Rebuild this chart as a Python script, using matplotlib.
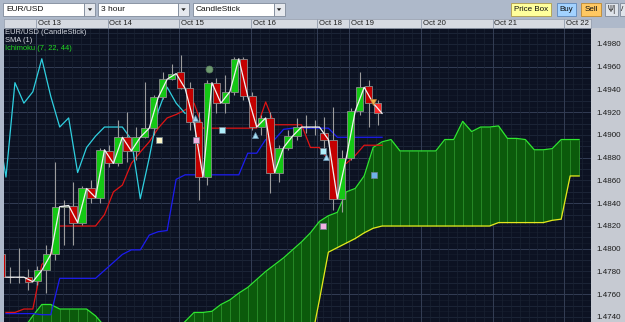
import numpy as np
import matplotlib
matplotlib.use('Agg')
import matplotlib.pyplot as plt
from matplotlib.patches import Rectangle, Polygon

W, H = 625, 322

# ---------------- data ----------------
opens = [1.4795, 1.4775, 1.4775, 1.4775, 1.4772, 1.4781, 1.4795, 1.4837, 1.4838, 1.4823,
         1.4853, 1.4845, 1.4886, 1.4875, 1.4898, 1.4886, 1.4898, 1.4906, 1.4933, 1.4949,
         1.4955, 1.4941, 1.4911, 1.4863, 1.4946, 1.4928, 1.4938, 1.4967, 1.4934, 1.4907,
         1.4915, 1.4867, 1.4889, 1.4899, 1.4907, 1.4907, 1.4902, 1.4896, 1.4844, 1.4880,
         1.4921, 1.4943, 1.4928]
highs = [1.4799, 1.4784, 1.4801, 1.4782, 1.4785, 1.4803, 1.4876, 1.4843, 1.4859, 1.4855,
         1.4860, 1.4889, 1.4891, 1.4913, 1.4920, 1.4907, 1.4947, 1.4935, 1.4955, 1.4962,
         1.4970, 1.4947, 1.4920, 1.4948, 1.4950, 1.4953, 1.4969, 1.4969, 1.4938, 1.4918,
         1.4920, 1.4891, 1.4904, 1.4915, 1.4918, 1.4913, 1.4916, 1.4925, 1.4887, 1.4924,
         1.4955, 1.4948, 1.4931]
lows = [1.4773, 1.4770, 1.4770, 1.4764, 1.4768, 1.4761, 1.4790, 1.4803, 1.4803, 1.4821,
        1.4840, 1.4840, 1.4872, 1.4873, 1.4876, 1.4878, 1.4897, 1.4900, 1.4932, 1.4948,
        1.4940, 1.4904, 1.4843, 1.4856, 1.4919, 1.4919, 1.4935, 1.4931, 1.4904, 1.4900,
        1.4849, 1.4859, 1.4887, 1.4896, 1.4902, 1.4900, 1.4889, 1.4834, 1.4832, 1.4878,
        1.4918, 1.4907, 1.4909]
closes = [1.4775, 1.4775, 1.4775, 1.4771, 1.4781, 1.4795, 1.4837, 1.4838, 1.4823, 1.4853,
          1.4845, 1.4887, 1.4875, 1.4898, 1.4886, 1.4898, 1.4906, 1.4933, 1.4949, 1.4954,
          1.4941, 1.4911, 1.4863, 1.4946, 1.4928, 1.4938, 1.4967, 1.4934, 1.4907, 1.4915,
          1.4867, 1.4889, 1.4899, 1.4907, 1.4907, 1.4907, 1.4896, 1.4844, 1.4880, 1.4921,
          1.4942, 1.4928, 1.4919]

# Ichimoku (7, 22, 44)
tenkan = [1.4744, 1.4744, 1.4747, 1.4747, 1.4786, 1.4795, 1.4820, 1.4820, 1.4820, 1.4820,
          1.4820, 1.4830, 1.4850, 1.4856, 1.4875, 1.4885, 1.4894, 1.4906, 1.4915, 1.4918,
          1.4922, 1.4928, 1.4906, 1.4906, 1.4906, 1.4906, 1.4906, 1.4906, 1.4906, 1.4929,
          1.4909, 1.4909, 1.4909, 1.4909, 1.4889, 1.4889, 1.4878, 1.4875, 1.4875, 1.4882,
          1.4891, 1.4891, 1.4891]
kijun = [1.4743, 1.4743, 1.4743, 1.4743, 1.4742, 1.4742, 1.4774, 1.4774, 1.4774, 1.4774,
         1.4774, 1.4781, 1.4788, 1.4795, 1.4799, 1.4799, 1.4812, 1.4815, 1.4816, 1.4861,
         1.4865, 1.4865, 1.4865, 1.4865, 1.4865, 1.4865, 1.4865, 1.4884, 1.4884, 1.4896,
         1.4896, 1.4905, 1.4906, 1.4906, 1.4906, 1.4906, 1.4906, 1.4898, 1.4898, 1.4898,
         1.4898, 1.4898, 1.4898]
senkou_a = [1.4720, 1.4720, 1.4730, 1.4741, 1.4751, 1.4751, 1.4747, 1.4747, 1.4747, 1.4747,
            1.4741, 1.4732, 1.4724, 1.4722, 1.4720, 1.4720, 1.4720, 1.4720, 1.4722, 1.4729,
            1.4736, 1.4744, 1.4744, 1.4745, 1.4751, 1.4755, 1.4761, 1.4766, 1.4773, 1.4780,
            1.4786, 1.4792, 1.4799, 1.4806, 1.4814, 1.4824, 1.4829, 1.4832, 1.4850, 1.4853,
            1.4864, 1.4889, 1.4894, 1.4896, 1.4886, 1.4886, 1.4886, 1.4886, 1.4886, 1.4896,
            1.4896, 1.4912, 1.4903, 1.4907, 1.4907, 1.4908, 1.4897, 1.4897, 1.4896, 1.4887,
            1.4887, 1.4888, 1.4896, 1.4896, 1.4896]
senkou_b = [1.4715] * 34 + [1.4715, 1.4755, 1.4797, 1.4801, 1.4805, 1.4809, 1.4814, 1.4818,
            1.4820, 1.4820, 1.4820, 1.4820, 1.4820, 1.4820, 1.4820, 1.4820, 1.4820, 1.4820,
            1.4820, 1.4820, 1.4820, 1.4823, 1.4823, 1.4823, 1.4823, 1.4823, 1.4823, 1.4825,
            1.4826, 1.4864, 1.4864]
chikou_shift = 22

day_labels = ['Oct 13', 'Oct 14', 'Oct 15', 'Oct 16', 'Oct 18', 'Oct 19', 'Oct 20', 'Oct 21', 'Oct 22']
day_pos = [3.85, 11.85, 19.85, 27.85, 35.2, 38.85, 46.85, 54.85, 62.85]
price_ticks = [1.4740, 1.4760, 1.4780, 1.4800, 1.4820, 1.4840, 1.4860, 1.4880,
               1.4900, 1.4920, 1.4940, 1.4960, 1.4980]

circle_pts = [(23.2, 1.4958)]
square_pts = [(17.6, 1.4896), (21.7, 1.4896), (24.6, 1.4904), (35.9, 1.4886), (35.9, 1.4820), (41.6, 1.4865)]
square_cols = ['#fff8c8', '#f2b2e2', '#b0eefa', '#b0eefa', '#f2b2e2', '#6fb2ea']
tri_up_pts = [(21.6, 1.4915), (28.3, 1.4900), (36.2, 1.4881)]
tri_down_pts = [(41.5, 1.4929)]

legend_lines = ['EUR/USD (CandleStick)', 'SMA (1)', 'Ichimoku (7, 22, 44)']

# ---------------- figure ----------------
CHROME = '#aeb9ca'
fig = plt.figure(figsize=(W / 100, H / 100), dpi=100, facecolor=CHROME)
FONT = 'Liberation Sans'


def fx(x):
    return x / W


def fy(y):
    return 1 - y / H


def fbox(x0, y0, x1, y1, fc, ec='#7f8a9a', lw=0.6, z=1):
    fig.add_artist(Rectangle((fx(x0), fy(y1)), fx(x1) - fx(x0), fy(y0) - fy(y1),
                             transform=fig.transFigure, fc=fc, ec=ec, lw=lw, zorder=z))


# right panel (behind the axes)
fbox(590.7, 27.5, 625, 322, '#c6cad2', ec='none', lw=0, z=-1)

# main axes
PL, PR, PT, PB = 3.5, 590.7, 27.5, 322
ax = fig.add_axes([fx(PL), fy(PB), fx(PR) - fx(PL), fy(PT) - fy(PB)])
ax.set_zorder(2)
ax.set_facecolor('#0c1222')
x_left = (PL - 1.5) / 8.955
x_right = (PR - 1.5) / 8.955
ax.set_xlim(x_left, x_right)
ymin, ymax = 1.47356, 1.49945
ax.set_ylim(ymin, ymax)
for s in ax.spines.values():
    s.set_visible(False)
ax.set_xticks([])
ax.yaxis.tick_right()
ax.set_yticks(price_ticks)
ax.set_yticklabels(['%.4f' % p for p in price_ticks], fontsize=5.8, color='#1a1a1a', family=FONT)
ax.tick_params(axis='y', length=0, pad=4)

# grid
for k in range(14720, 15001, 5):
    p = k / 10000
    if k % 40 == 0:
        c, lw = '#333d54', 0.7
    elif k % 10 == 0:
        c, lw = '#1f283b', 0.6
    else:
        c, lw = '#161d2d', 0.5
    ax.axhline(p, color=c, lw=lw, zorder=0)
for t in np.arange(day_pos[0] - 4, x_right, 1.0):
    ax.axvline(t, color='#1a2233', lw=0.5, zorder=0)
for t in day_pos:
    ax.axvline(t, color='#333d54', lw=0.7, zorder=0)

# cloud
n_cloud = len(senkou_a)
xb = np.arange(n_cloud) + 0.5
A = np.array(senkou_a)
B = np.array(senkou_b)
ax.fill_between(xb, A, B, color='#0b5a0b', lw=0, zorder=1)
ax.vlines(xb, np.minimum(A, B), np.maximum(A, B), color='#2b8f2b', lw=0.6, zorder=1.1)
ax.plot(xb, A, color='#2ee82e', lw=0.9, zorder=1.2)
ax.plot(xb, B, color='#e6e61e', lw=0.9, zorder=1.2)

n = len(closes)
idx = np.arange(n)
xl = idx + 0.5
ax.plot(xl, kijun, color='#1c1cf0', lw=0.9, zorder=2)
ax.plot(xl, tenkan, color='#e01414', lw=0.9, zorder=2.1)
ax.plot(idx - chikou_shift + 0.5, closes, color='#2fd0e0', lw=0.9, zorder=2.2)

# candles
for i, (o, h, l, c) in enumerate(zip(opens, highs, lows, closes)):
    ax.vlines(i, l, h, color='#9c9c9c', lw=0.8, zorder=3)
    if c > o:
        fc = '#14c814'
    elif c < o:
        fc = '#ff2a2a' if i == n - 1 else '#c40000'
    else:
        fc = 'none'
    ax.add_patch(Rectangle((i - 0.41, min(o, c)), 0.82, abs(c - o), fc=fc,
                           ec='#8c8c8c', lw=0.6, zorder=3.5))

# SMA(1)
ax.plot(xl, closes, color='#f2f2f2', lw=0.9, zorder=4)

# markers
for (x, y) in circle_pts:
    ax.plot(x, y, 'o', ms=5, mfc='#6e9a70', mec='#5a805c', mew=0.5, zorder=5)
for (x, y), col in zip(square_pts, square_cols):
    ax.plot(x, y, 's', ms=3.8, mfc=col, mec='#6f8090', mew=0.5, zorder=5)
for (x, y) in tri_up_pts:
    ax.plot(x, y, '^', ms=4.5, mfc='#a6dcf2', mec='#6b9ab8', mew=0.5, zorder=5)
for (x, y) in tri_down_pts:
    ax.plot(x, y, 'v', ms=4.5, mfc='#f2b24e', mec='#c08030', mew=0.5, zorder=5)

# legend texts
leg_cols = ['#d2d6de', '#d2d6de', '#22dd22']
for k, (t, col) in enumerate(zip(legend_lines, leg_cols)):
    fig.text(fx(5), fy(28.8 + 8.2 * k), t, color=col, fontsize=5.4, family=FONT,
             va='top', ha='left', zorder=10)

# date header
hx = fig.add_axes([fx(PL), fy(27.5), fx(PR) - fx(PL), fy(18.5) - fy(27.5)])
hx.set_zorder(2)
hx.set_facecolor('#d6dae1')
hx.set_xlim(x_left, x_right)
hx.set_ylim(0, 1)
hx.set_xticks([])
hx.set_yticks([])
for s in hx.spines.values():
    s.set_color('#9aa3b2')
    s.set_linewidth(0.6)
for t, lab in zip(day_pos, day_labels):
    hx.axvline(t, color='#9aa3b2', lw=0.7)
    hx.text(t + 0.2, 0.45, lab, fontsize=5.6, family=FONT, color='#202020', va='center', ha='left')

# toolbar
def dropdown(x0, x1, label):
    fbox(x0, 3, x1, 16, 'white', ec='#7f8a9a', lw=0.6, z=2)
    fbox(x1, 3, x1 + 11, 16, '#e6e9ee', ec='#7f8a9a', lw=0.6, z=2)
    cx = x1 + 5.5
    fig.add_artist(Polygon([(fx(cx - 2.2), fy(8.3)), (fx(cx + 2.2), fy(8.3)), (fx(cx), fy(11))],
                           closed=True, transform=fig.transFigure, fc='#202020', ec='none', zorder=3))
    fig.text(fx(x0 + 3), fy(9.6), label, fontsize=6.0, family=FONT, color='#101010',
             va='center', ha='left', zorder=3)


dropdown(3, 84.5, 'EUR/USD')
dropdown(98, 178, '3 hour')
dropdown(192.5, 273.5, 'CandleStick')


def button(x0, x1, label, fc, ec):
    fbox(x0, 3, x1, 16, fc, ec=ec, lw=0.7, z=2)
    fig.text(fx((x0 + x1) / 2), fy(9.6), label, fontsize=5.8, family=FONT, color='#101010',
             va='center', ha='center', zorder=3)


button(511, 551, 'Price Box', '#ffff9c', '#b4a45a')
button(557, 576, 'Buy', '#a2d2ff', '#6890c0')
button(581, 601, 'Sell', '#ffc862', '#c09040')
fbox(605, 3, 618, 16, '#dfe4ea', ec='#7f8a9a', lw=0.6, z=2)
fig.text(fx(611.5), fy(9.6), '\u03a8|', fontsize=5.5, family='DejaVu Sans', color='#202020',
         va='center', ha='center', zorder=3)
fbox(620, 3, 630, 16, '#dfe4ea', ec='#7f8a9a', lw=0.6, z=2)
fig.text(fx(622.5), fy(9.6), '/', fontsize=6, family=FONT, color='#202020',
         va='center', ha='center', zorder=3)

fig.savefig('out.png', dpi=100, facecolor=fig.get_facecolor())
